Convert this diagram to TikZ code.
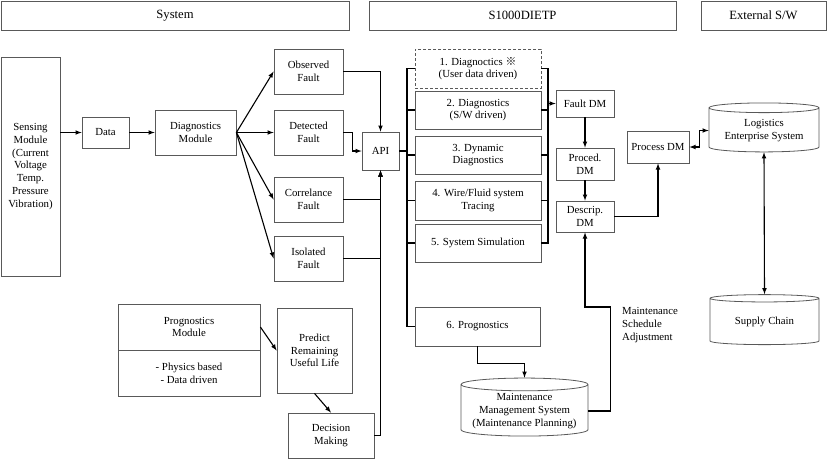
\documentclass[tikz,border=0pt]{standalone}
\usepackage{fontspec}
\setmainfont{Liberation Serif}
\newfontfamily\cjk{Noto Sans CJK SC}
\usetikzlibrary{shapes}

\begin{document}
\begin{tikzpicture}[x=1pt,y=-1pt,>=latex]
      \tikzstyle{every node}=[font=\fontsize{10.8}{12.7}\selectfont,align=center,inner sep=1pt]
      \tikzstyle{blk}=[rectangle,draw=black!65,line width=0.8pt]
      \tikzstyle{head}=[blk,minimum height=29,font=\fontsize{12.6}{14}\selectfont]
      \tikzstyle{dbs}=[cylinder,shape border rotate=90,aspect=0.12,draw=black!65,line width=0.8pt]
      \tikzstyle{wire}=[line width=1.1pt]
      \useasboundingbox (0,0) rectangle (827,459);
      \node[head,minimum width=348] (sys) at (175,15.5) {System};
      \node[head,minimum width=307] (ietp) at (522.5,15.5) {S1000DIETP};
      \node[head,minimum width=125] (ext) at (763.5,15.5) {External S/W};
      \node[blk,minimum width=59,minimum height=219] (sens) at (30.5,166.5)
        {Sensing\\Module\\(Current\\Voltage\\Temp.\\Pressure\\Vibration)};
      \node[blk,minimum width=47,minimum height=31] (data) at (105.5,132.5) {Data};
      \node[blk,minimum width=81,minimum height=45] (diag) at (195.5,132.5) {Diagnostics\\Module};
      \node[blk,minimum width=69,minimum height=45] (obs) at (308.5,71.5) {Observed\\Fault};
      \node[blk,minimum width=69,minimum height=45] (det) at (308.5,132.5) {Detected\\Fault};
      \node[blk,minimum width=69,minimum height=45] (cor) at (308.5,199.5) {Correlance\\Fault};
      \node[blk,minimum width=69,minimum height=45] (iso) at (308.5,258.5) {Isolated\\Fault};
      \node[blk,minimum width=37,minimum height=38] (api) at (380.5,151) {API};
      \node[blk,densely dashed,minimum width=126,minimum height=39] (d1) at (478,68.5)
        {1. Diagnoctics {\cjk ※}\\(User data driven)};
      \node[blk,minimum width=126,minimum height=38] (d2) at (478,110) {2. Diagnostics\\(S/W driven)};
      \node[blk,minimum width=126,minimum height=38] (d3) at (478,155) {3. Dynamic\\Diagnostics};
      \node[blk,minimum width=126,minimum height=39] (d4) at (478,200.5) {4. Wire/Fluid system\\Tracing};
      \node[blk,minimum width=126,minimum height=38] (d5) at (478,243) {5. System Simulation};
      \node[blk,minimum width=125,minimum height=39] (prog) at (477.5,326.5) {6. Prognostics};
      \node[blk,minimum width=58,minimum height=27] (fdm) at (585,103.5) {Fault DM};
      \node[blk,minimum width=58,minimum height=32] (pcd) at (585,164) {Proced.\\DM};
      \node[blk,minimum width=58,minimum height=31] (dsc) at (585,216.5) {Descrip.\\DM};
      \node[blk,minimum width=62,minimum height=32] (pdm) at (658,147) {Process DM};
      \node[dbs,minimum width=110,minimum height=49] (les) at (764,130.5) {Logistics\\Enterprise System};
      \node[dbs,minimum width=109,minimum height=50] (sup) at (764.5,322) {Supply Chain};
      \node[dbs,minimum width=127,minimum height=58] (mms) at (524.5,411)
        {Maintenance\\Management System\\(Maintenance Planning)};
      \node[blk,minimum width=142,minimum height=46] (pmod) at (189,327) {Prognostics\\Module};
      \node[blk,minimum width=142,minimum height=46] (phys) at (189,373) {- Physics based\\- Data driven};
      \node[blk,minimum width=75,minimum height=85] (rul) at (314.5,350.5) {Predict\\Remaining\\Useful Life};
      \node[blk,minimum width=86,minimum height=45] (dec) at (331,435.5) {Decision\\Making};
      \node[align=left,anchor=west] (msa) at (621,325) {Maintenance\\Schedule\\Adjustment};
      \coordinate (busL) at (407,0);
      \coordinate (busR) at (548,0);
      \draw[wire,->] (sens.east |- data.west) -- (data.west);
      \draw[wire,->] (data.east) -- (diag.west);
      \foreach \f in {obs,det,cor,iso}
        \draw[wire,->] (diag.east) -- (\f.west);
      \draw[wire,->] (obs.east) -| (api.north);
      \draw[wire,->] (det.east) -- ++(9,0) |- (api.west);
      \foreach \f in {cor,iso,dec}
        \draw[wire,->] (\f.east) -| (api.south);
      \draw[wire] (api.east) -- (api.east -| busL);
      \draw[wire] (d1.west) -- (d1.west -| busL) |- (prog.west);
      \foreach \f in {d2,d3,d4,d5}
        \draw[wire] (\f.west) -- (\f.west -| busL);
      \draw[wire] (d1.east) -- (d1.east -| busR) |- (d5.east);
      \foreach \f in {d2,d3,d4}
        \draw[wire] (\f.east) -- (\f.east -| busR);
      \draw[wire,->] (fdm.west -| busR) -- (fdm.west);
      \draw[wire,->] (fdm.south) -- (pcd.north);
      \draw[wire,->] (pcd.south) -- (dsc.north);
      \draw[wire,->] (dsc.east) -| (pdm.south);
      \draw[wire,<->] (pdm.east) -- ++(10,0) |- (les.west);
      \draw[wire,<->] (les.south) -- (sup.north);
      \draw[wire,->] (prog.south) -- ++(0,17) -| (mms.north);
      \draw[wire,->] (mms.east) -- ++(22,0) -- ++(0,-104) -| (dsc.south);
      \draw[wire,->] (pmod.east) -- (rul.west);
      \draw[wire,->] (rul.south) -- (dec.north);
\end{tikzpicture}
\end{document}
